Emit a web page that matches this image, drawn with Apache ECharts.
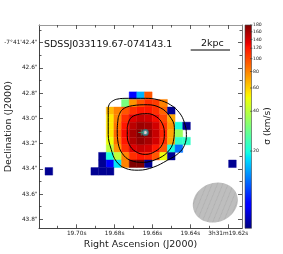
<!DOCTYPE html>
<html><head><meta charset="utf-8">
<script src="https://cdn.jsdelivr.net/npm/echarts@6/dist/echarts.min.js"></script>
<style>html,body{margin:0;padding:0;background:#fff}#c{width:283px;height:254px}</style>
</head><body><div id="c"></div>
<script>
// ---------- data ----------
const raMajorTicks = [19.70, 19.68, 19.66, 19.64, 19.62];
const raMinorTicks = [19.71, 19.69, 19.67, 19.65, 19.63];
const decMajorTicks = [42.4, 42.6, 42.8, 43.0, 43.2, 43.4, 43.6, 43.8];
const decMinorTicks = [42.3, 42.5, 42.7, 42.9, 43.1, 43.3, 43.5, 43.7];
const cbTicks = [20, 40, 60, 80, 100, 120, 140, 160, 180];
const sigmaMin = 5.2, sigmaMax = 180;

// spaxel grid (0.06" pixels): column 0 left edge / row 0 top edge
const RA0 = 19.7167, Dec0 = 42.79, dRA = 0.004036, dDec = 0.06;
const firstCol = 6;
// columns 6..18, rows 0..10 ; sigma in km/s
const sigmaRows = [
  [null,null,null,null,null,8,   15,  95,  null,null,null,null,null],
  [null,null,null,null,30,  75,  95,  110, 105, 80,  null,null,null],
  [null,null,65,  80,  95,  110, 120, 120, 110, 90,  5.5, null,null],
  [null,null,55,  80,  110, 135, 145, 140, 125, 100, 70,  null,null],
  [null,null,55,  85,  120, 150, 165, 160, 140, 110, 75,  20,  5.5],
  [null,null,55,  90,  125, 160, 180, 170, 145, 115, 70,  35,  null],
  [null,null,50,  85,  120, 155, 170, 160, 140, 110, 70,  22,  22],
  [null,null,40,  75,  110, 135, 145, 140, 120, 95,  20,  12,  null],
  [null,5.5, 20,  40,  80,  110, 120, 115, 95,  50,  5.5, null,null],
  [null,5.5, 8,   18,  80,  180, 180, 5.5, null,null,null,null,null],
  [5.5, 5.5, 5.5, null,null,null,null,null,null,null,null,null,null]
];
const isolatedCols = [0, 24];
const isolatedRows = [10, 9];
const isolatedSigma = [5.5, 5.5];

// flux contours, in spaxel units [col,row]
const contourOuter = [[8.52,1.44],[9.31,0.98],[10.88,0.85],[13.11,0.85],[14.81,1.05],[16.38,1.70],[17.56,2.75],[18.22,4.06],[18.48,5.64],[18.22,7.08],[17.43,8.13],[15.99,9.04],[14.15,9.96],[12.19,10.35],[10.48,10.09],[9.31,9.17],[8.65,7.60],[8.26,5.64],[8.26,3.41],[8.26,2.10],[8.52,1.44]];
const contourMiddle = [[9.57,3.41],[10.09,2.36],[11.40,1.83],[13.37,1.70],[15.07,2.10],[16.25,3.15],[16.91,4.72],[16.78,6.55],[15.99,7.99],[14.55,8.91],[12.84,9.31],[11.14,9.04],[10.09,8.13],[9.57,6.82],[9.44,4.98],[9.57,3.41]];
const contourInner = [[10.75,4.72],[11.14,3.54],[12.06,3.01],[13.37,2.88],[14.55,3.28],[15.33,4.19],[15.60,5.50],[15.33,6.95],[14.42,7.86],[13.11,8.26],[11.80,7.86],[11.01,6.95],[10.75,5.77],[10.75,4.72]];
const peakRing = [[13.11, 5.37]];
const centerPlus = [[12.58, 5.37]];

// ---------- helpers ----------
const toRA = c => RA0 - c * dRA;
const toDec = r => Dec0 + r * dDec;
const conv = pts => pts.map(p => [toRA(p[0]), toDec(p[1])]);

const jetSeg = {
  r: [[0,0],[0.35,0],[0.66,1],[0.89,1],[1,0.5]],
  g: [[0,0],[0.125,0],[0.375,1],[0.64,1],[0.91,0],[1,0]],
  b: [[0,0.5],[0.11,1],[0.34,1],[0.65,0],[1,0]]
};
function interp(seg, t) {
  for (let i = 1; i < seg.length; i++) {
    if (t <= seg[i][0]) { const [x0,y0] = seg[i-1], [x1,y1] = seg[i]; return y0 + (y1-y0)*(t-x0)/(x1-x0); }
  }
  return seg[seg.length-1][1];
}
function jet(t) { const c = k => Math.round(255*interp(jetSeg[k], t)); return 'rgb(' + c('r') + ',' + c('g') + ',' + c('b') + ')'; }
const jetColors = []; for (let i = 0; i <= 100; i++) jetColors.push(jet(i/100));

const cellData = [];
sigmaRows.forEach((row, r) => row.forEach((s, j) => {
  if (s != null) { const c = firstCol + j; cellData.push([toRA(c + 0.5), toDec(r + 0.5), s, Math.log(s)]); }
}));
isolatedCols.forEach((c, i) => {
  const s = isolatedSigma[i]; cellData.push([toRA(c + 0.5), toDec(isolatedRows[i] + 0.5), s, Math.log(s)]);
});

const lnMin = Math.log(sigmaMin), lnMax = Math.log(sigmaMax);

// hatch pattern for beam
const pat = document.createElement('canvas'); pat.width = 7; pat.height = 7;
(function(){ const g = pat.getContext('2d'); g.fillStyle = '#bebebe'; g.fillRect(0,0,7,7);
  g.strokeStyle = '#a9a9a9'; g.lineWidth = 0.7; g.beginPath(); g.moveTo(0,7); g.lineTo(7,0); g.stroke(); })();

const FONT = 'DejaVu Sans';
const xRange = {min: 19.61277, max: 19.71989};
const yRange = {min: 42.2596, max: 43.8718};
function xAx(pos, ticks, len, labels, lineColor) {
  return Object.assign({
    gridIndex: 0, type: 'value', inverse: true, position: pos,
    axisLine: {show: !!lineColor, lineStyle: {color: lineColor || '#000', width: 1}},
    axisTick: {show: true, inside: true, length: len, customValues: ticks, lineStyle: {color: '#333', width: 0.8}},
    axisLabel: labels ? {show: true, customValues: ticks, fontSize: 5.8, fontFamily: FONT, color: '#222', margin: 2,
      formatter: v => Math.abs(v - 19.62) < 1e-6 ? '3h31m19.62s' : v.toFixed(2) + 's'} : {show: false},
    splitLine: {show: false}
  }, xRange);
}
function yAx(pos, ticks, len, labels, lineColor) {
  return Object.assign({
    gridIndex: 0, type: 'value', inverse: true, position: pos,
    axisLine: {show: !!lineColor, lineStyle: {color: lineColor || '#000', width: 1}},
    axisTick: {show: true, inside: true, length: len, customValues: ticks, lineStyle: {color: '#333', width: 0.8}},
    axisLabel: labels ? {show: true, customValues: ticks, fontSize: 5.8, fontFamily: FONT, color: '#222', margin: 1.5,
      formatter: v => Math.abs(v - 42.4) < 1e-6 ? '-7°41\'42.4"' : v.toFixed(1) + '"'} : {show: false},
    splitLine: {show: false}
  }, yRange);
}

const xMain = xAx('bottom', raMajorTicks, 4, true, '#444');
xMain.name = 'Right Ascension (J2000)'; xMain.nameLocation = 'middle'; xMain.nameGap = 11; xMain.nameMoveOverlap = false;
xMain.nameTextStyle = {fontSize: 9.5, fontFamily: FONT, color: '#222'};
const yMain = yAx('left', decMajorTicks, 4, true, '#444');
yMain.name = 'Declination (J2000)'; yMain.nameLocation = 'middle'; yMain.nameGap = 25; yMain.nameMoveOverlap = false;
yMain.nameTextStyle = {fontSize: 9.5, fontFamily: FONT, color: '#222'};

const chart = echarts.init(document.getElementById('c'), null, {renderer: 'canvas'});
chart.setOption({
  animation: false,
  backgroundColor: '#fff',
  grid: [
    {left: 39, top: 25, width: 203, height: 203.3, show: false, containLabel: false, outerBoundsMode: 'none'},
    {left: 245, top: 25, width: 6.5, height: 203.3, show: false, containLabel: false, outerBoundsMode: 'none'}
  ],
  xAxis: [
    xMain,
    xAx('bottom', raMinorTicks, 2.5, false, null),
    xAx('top', raMajorTicks, 4, false, '#999'),
    xAx('top', raMinorTicks, 2.5, false, null),
    {gridIndex: 1, type: 'value', min: 0, max: 1, show: false}
  ],
  yAxis: [
    yMain,
    yAx('left', decMinorTicks, 2.5, false, null),
    yAx('right', decMajorTicks, 4, false, '#777'),
    yAx('right', decMinorTicks, 2.5, false, null),
    {gridIndex: 1, type: 'value', min: lnMin, max: lnMax, show: false}
  ],
  visualMap: {type: 'continuous', show: false, seriesIndex: 0, dimension: 3, min: lnMin, max: lnMax,
    inRange: {color: jetColors}},
  series: [
    {
      type: 'custom', xAxisIndex: 0, yAxisIndex: 0, data: cellData, encode: {x: 0, y: 1},
      renderItem: function (params, api) {
        const ra = api.value(0), dec = api.value(1);
        const a = api.coord([ra + dRA/2, dec - dDec/2]);
        const b = api.coord([ra - dRA/2, dec + dDec/2]);
        const col = api.visual('color');
        return {type: 'rect', shape: {x: Math.min(a[0], b[0]), y: Math.min(a[1], b[1]),
          width: Math.abs(b[0] - a[0]), height: Math.abs(b[1] - a[1])},
          style: {fill: col, stroke: col, lineWidth: 0.4}};
      }
    },
    {type: 'line', xAxisIndex: 0, yAxisIndex: 0, data: conv(contourOuter), smooth: 0.4, showSymbol: false, symbol: 'none',
      lineStyle: {color: '#000', width: 1}, z: 3},
    {type: 'line', xAxisIndex: 0, yAxisIndex: 0, data: conv(contourMiddle), smooth: 0.4, showSymbol: false, symbol: 'none',
      lineStyle: {color: '#000', width: 1}, z: 3},
    {type: 'line', xAxisIndex: 0, yAxisIndex: 0, data: conv(contourInner), smooth: 0.4, showSymbol: false, symbol: 'none',
      lineStyle: {color: '#000', width: 1}, z: 3},
    {type: 'scatter', xAxisIndex: 0, yAxisIndex: 0, data: conv(peakRing), symbol: 'emptyCircle', symbolSize: 5,
      itemStyle: {color: '#2a7f86', borderColor: '#2a7f86', borderWidth: 1}, z: 4},
    {type: 'scatter', xAxisIndex: 0, yAxisIndex: 0, data: conv(centerPlus),
      symbol: 'path://M-0.6,-4H0.6V-0.6H4V0.6H0.6V4H-0.6V0.6H-4V-0.6H-0.6Z', symbolSize: 6,
      itemStyle: {color: '#3aa07a'}, z: 4},
    {
      type: 'custom', xAxisIndex: 4, yAxisIndex: 4, data: [[0, lnMax, 1, lnMin]],
      renderItem: function (params, api) {
        const a = api.coord([0, lnMax]), b = api.coord([1, lnMin]);
        const stops = jetColors.map((c, i) => ({offset: i / 100, color: c}));
        return {type: 'rect', shape: {x: a[0], y: a[1], width: b[0] - a[0], height: b[1] - a[1]},
          style: {fill: new echarts.graphic.LinearGradient(0, 1, 0, 0, stops), stroke: '#444', lineWidth: 0.6}};
      }
    },
    {
      type: 'custom', xAxisIndex: 4, yAxisIndex: 4, data: cbTicks.map(v => [1, Math.log(v), v]),
      renderItem: function (params, api) {
        const p = api.coord([1, api.value(1)]);
        return {type: 'group', children: [
          {type: 'line', shape: {x1: p[0] - 1.5, y1: p[1], x2: p[0] + 1, y2: p[1]}, style: {stroke: '#333', lineWidth: 0.6}},
          {type: 'text', x: p[0] + 1.5, y: p[1], style: {text: String(api.value(2)), fontSize: 4.6, fontFamily: FONT,
            fill: '#222', verticalAlign: 'middle', align: 'left'}}
        ]};
      }
    }
  ],
  graphic: [
    {type: 'text', left: 44, top: 39.5, style: {text: 'SDSSJ033119.67-074143.1', fontSize: 9.5, fontFamily: FONT, fill: '#111'}},
    {type: 'text', left: 201, top: 38.5, style: {text: '2kpc', fontSize: 9.5, fontFamily: FONT, fill: '#111'}},
    {type: 'line', shape: {x1: 190.7, y1: 50, x2: 230, y2: 50}, style: {stroke: '#000', lineWidth: 1}},
    {type: 'ellipse', shape: {cx: 0, cy: 0, rx: 23, ry: 19.5}, x: 215.3, y: 202.5, rotation: 0.4,
      style: {fill: {image: pat, repeat: 'repeat'}}},
    {type: 'text', x: 268, y: 126, rotation: Math.PI / 2,
      style: {text: 'σ (km/s)', fontSize: 9, fontFamily: FONT, fill: '#222', align: 'center', verticalAlign: 'middle'}}
  ]
});
</script>
</body></html>
